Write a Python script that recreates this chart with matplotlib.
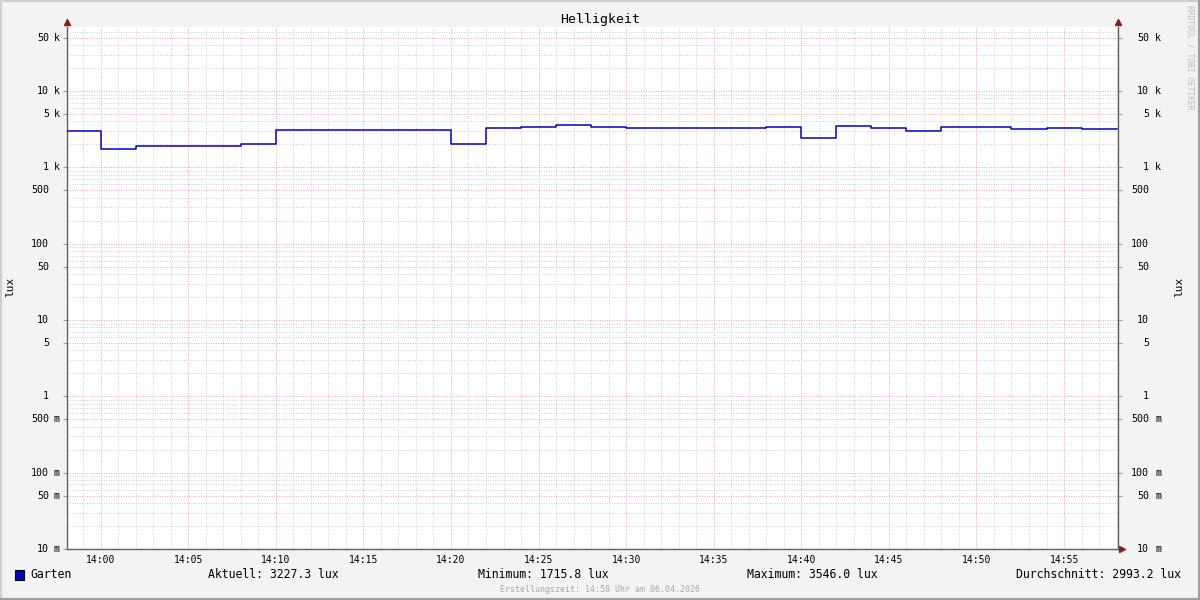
import numpy as np
import matplotlib
matplotlib.use("Agg")
import matplotlib.pyplot as plt
from matplotlib import transforms
from matplotlib.patches import Rectangle
from matplotlib.lines import Line2D

# minutes relative to 14:00, one value per 2-minute step (lux)
step_start = [-2, 0, 2, 4, 6, 8, 10, 12, 14, 16, 18, 20, 22, 24, 26, 28, 30, 32, 34, 36,
              38, 40, 42, 44, 46, 48, 50, 52, 54, 56]
garten = [3000, 1715.8, 1910, 1910, 1910, 2010, 3100, 3100, 3100, 3100, 3100, 2010,
          3250, 3380, 3546, 3400, 3290, 3290, 3290, 3290, 3380, 2410, 3500, 3300,
          2980, 3380, 3380, 3150, 3290, 3227.3]

x_ticks = [0, 5, 10, 15, 20, 25, 30, 35, 40, 45, 50, 55]
x_labels = ["14:00", "14:05", "14:10", "14:15", "14:20", "14:25", "14:30",
            "14:35", "14:40", "14:45", "14:50", "14:55"]
y_ticks = [0.01, 0.05, 0.1, 0.5, 1, 5, 10, 50, 100, 500, 1000, 5000, 10000, 50000]
y_nums = ["10", "50", "100", "500", "1", "5", "10", "50", "100", "500", "1", "5", "10", "50"]
y_units = ["m", "m", "m", "m", "", "", "", "", "", "", "k", "k", "k", "k"]

legend_texts = ["Aktuell: 3227.3 lux", "Minimum: 1715.8 lux",
                "Maximum: 3546.0 lux", "Durchschnitt: 2993.2 lux"]

W, H = 1200, 600
mono = "DejaVu Sans Mono"
plt.rcParams["font.family"] = mono

fig = plt.figure(figsize=(12, 6), dpi=100, facecolor="#F3F3F3")
ax = fig.add_axes([67 / W, 1 - 549 / H, (1118 - 67) / W, (549 - 27) / H])
ax.set_facecolor("white")

xs = step_start + [58]
ys = garten + [garten[-1]]
ax.plot(xs, ys, drawstyle="steps-post", color="#0000CC", lw=1.1, zorder=5)

ax.set_yscale("log")
ax.set_ylim(0.01, 69000)
ax.set_xlim(-1.92, 58.08)

# grid lines (rrdtool style)
dot = (0, (1, 1.5))
for m in range(-1, 59):
    if m % 5 == 0:
        ax.axvline(m, color="#E8A8A8", lw=0.7, ls=dot, zorder=1)
    else:
        ax.axvline(m, color="#D0D0D0", lw=0.7, ls=dot, zorder=1)
for e in range(-2, 5):
    for k in range(1, 10):
        v = k * 10.0 ** e
        if v > 69000:
            continue
        if k in (1, 5):
            ax.axhline(v, color="#E8A8A8", lw=0.7, ls=dot, zorder=1)
        else:
            ax.axhline(v, color="#D0D0D0", lw=0.7, ls=dot, zorder=1)

for s in ["left", "bottom", "right"]:
    ax.spines[s].set_color("#606060")
    ax.spines[s].set_linewidth(1)
ax.spines["top"].set_visible(False)

ax.set_xticks(x_ticks)
ax.set_xticklabels(x_labels, fontsize=7, family=mono)
ax.tick_params(axis="x", length=0, pad=4)
ax.set_yticks(y_ticks)
ax.set_yticklabels([])
ax.yaxis.set_minor_locator(matplotlib.ticker.NullLocator())
ax.tick_params(axis="y", which="both", length=3, color="#A0A0A0", left=True, right=True)

# y tick labels: number right-aligned, unit after it
tl_num = transforms.offset_copy(ax.get_yaxis_transform(), fig=fig, x=-18, y=0, units="dots")
tl_unit = transforms.offset_copy(ax.get_yaxis_transform(), fig=fig, x=-13, y=0, units="dots")
tr_num = transforms.offset_copy(ax.get_yaxis_transform(), fig=fig, x=31, y=0, units="dots")
tr_unit = transforms.offset_copy(ax.get_yaxis_transform(), fig=fig, x=37, y=0, units="dots")
for v, n, u in zip(y_ticks, y_nums, y_units):
    ax.text(0, v, n, transform=tl_num, ha="right", va="center", fontsize=7.2)
    ax.text(1, v, n, transform=tr_num, ha="right", va="center", fontsize=7.2)
    if u:
        ax.text(0, v, u, transform=tl_unit, ha="left", va="center", fontsize=7.2)
        ax.text(1, v, u, transform=tr_unit, ha="left", va="center", fontsize=7.2)

# arrows
arrow_c = "#8B1A1A"
ax.plot([0, 1], [1.01, 1.01], ls="none", marker="^", ms=4, color=arrow_c,
        transform=ax.transAxes, clip_on=False)
ax.plot([1.004], [0], ls="none", marker=">", ms=4, color=arrow_c,
        transform=ax.transAxes, clip_on=False)

def fx(px):
    return px / W

def fy(py):
    return 1 - py / H

fig.text(fx(600), fy(19), "Helligkeit", ha="center", va="center", fontsize=9.5)
fig.text(fx(10), fy(287), "lux", ha="center", va="center", rotation=90, fontsize=8)
fig.text(fx(1179), fy(287), "lux", ha="center", va="center", rotation=90, fontsize=8)
fig.text(fx(1190), fy(5), "RRDTOOL / TOBI OETIKER", ha="center", va="top",
         rotation=270, fontsize=5.7, color="#BBBBBB")

fig.patches.append(Rectangle((fx(15), fy(580)), 9 / W, 10 / H, transform=fig.transFigure,
                             facecolor="#0000CC", edgecolor="black", lw=0.8))
fig.text(fx(30), fy(575), "Garten", ha="left", va="center", fontsize=8.3)
for px, t in zip([208, 478, 747, 1016], legend_texts):
    fig.text(fx(px), fy(575), t, ha="left", va="center", fontsize=8.3)
fig.text(fx(600), fy(589), "Erstellungszeit: 14:58 Uhr am 06.04.2026", ha="center",
         va="center", fontsize=6, color="#A8A8A8")

# frame
fig.lines.append(Line2D([0, 0, 1], [0, 1, 1], transform=fig.transFigure,
                        color="#CFCFCF", lw=3))
fig.lines.append(Line2D([0, 1, 1], [0, 0, 1], transform=fig.transFigure,
                        color="#9E9E9E", lw=3))

fig.savefig("out.png", dpi=100, facecolor=fig.get_facecolor())
